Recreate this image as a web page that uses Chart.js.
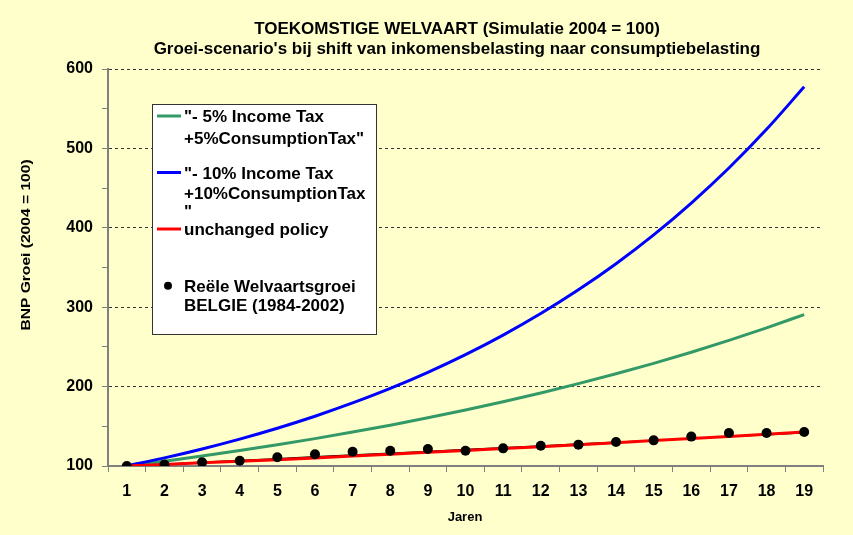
<!DOCTYPE html>
<html>
<head>
<meta charset="utf-8">
<script src="https://cdn.jsdelivr.net/npm/chart.js@4.4.1/dist/chart.umd.min.js"></script>
<style>
  html, body { margin: 0; padding: 0; background: #FFFFCC; }
  #wrap { width: 853px; height: 535px; }
</style>
</head>
<body>
<div id="wrap"><canvas id="welvaart-plot"></canvas></div>
<script>
// Jaren 1..19
const jaren = ['1','2','3','4','5','6','7','8','9','10','11','12','13','14','15','16','17','18','19'];

// "- 5% Income Tax +5%ConsumptionTax"
const scenario5 = [100, 106.1, 112.6, 119.5, 126.8, 134.5, 142.7, 151.4, 160.7, 170.5, 180.9, 192.0, 203.7, 216.1, 229.3, 243.3, 258.2, 274.0, 290.7];
// "- 10% Income Tax +10%ConsumptionTax"
const scenario10 = [100, 110.2, 121.5, 133.9, 147.6, 162.7, 179.4, 197.7, 218.0, 240.3, 264.9, 292.0, 321.9, 354.8, 391.1, 431.2, 475.3, 524.0, 577.6];
// unchanged policy
const unchanged = [100, 102, 104, 106, 108, 110, 112.6, 114.9, 117.2, 119.5, 121.9, 124.3, 126.8, 129.4, 132.0, 134.6, 137.3, 140.0, 142.8];
// trend under the red line
const trendBelgie = [100, 102.3, 104.6, 106.9, 109.2, 111.5, 113.8, 116.1, 118.4, 120.7, 123.0, 125.3, 127.6, 129.9, 132.2, 134.6, 137.0, 139.4, 141.8];
// Reële Welvaartsgroei BELGIE (1984-2002)
const reeleGroei = [100, 102, 104.6, 106.7, 111, 114.7, 118, 119.3, 121.4, 119.3, 122.2, 125.6, 126.9, 130.2, 132.3, 137, 141.6, 141.6, 142.8];

const yTicks = [100, 200, 300, 400, 500, 600];

const chartTitle = ['TOEKOMSTIGE WELVAART (Simulatie 2004 = 100)',
                    "Groei-scenario's bij shift van inkomensbelasting naar consumptiebelasting"];

const legendItems = [
    { lines: ['"- 5% Income Tax', '+5%ConsumptionTax"'], color: '#339966', type: 'line' },
    { lines: ['"- 10% Income Tax', '+10%ConsumptionTax', '"'], color: '#0000FF', type: 'line' },
    { lines: ['unchanged policy'], color: '#FF0000', type: 'line' },
    { lines: ['Reële Welvaartsgroei', 'BELGIE (1984-2002)'], color: '#000000', type: 'dot' }
];

const FONT = '"Liberation Sans", Arial, sans-serif';

// background, titles and the boxed legend
const decorPlugin = {
    id: 'decor',
    beforeDraw(chart) {
        const ctx = chart.ctx;
        ctx.save();
        ctx.fillStyle = '#FFFFCC';
        ctx.fillRect(0, 0, chart.width, chart.height);
        ctx.restore();
    },
    afterDraw(chart) {
        const ctx = chart.ctx;
        ctx.save();
        ctx.fillStyle = '#000';
        ctx.textAlign = 'center';
        ctx.textBaseline = 'alphabetic';
        ctx.font = 'bold 17px ' + FONT;
        ctx.fillText(chartTitle[0], 457, 34);
        ctx.fillText(chartTitle[1], 457, 54);

        // x axis title
        ctx.font = 'bold 13px ' + FONT;
        ctx.fillText('Jaren', 465, 521);

        // y axis title
        ctx.save();
        ctx.translate(27, 245);
        ctx.rotate(-Math.PI / 2);
        ctx.scale(1.3, 1);
        ctx.font = 'bold 12px ' + FONT;
        ctx.textBaseline = 'middle';
        ctx.fillText('BNP Groei (2004 = 100)', 0, 0);
        ctx.restore();

        // legend box
        ctx.fillStyle = '#FFFFFF';
        ctx.fillRect(152, 104, 224, 230);
        ctx.strokeStyle = '#333333';
        ctx.lineWidth = 1;
        ctx.strokeRect(152.5, 104.5, 224, 230);

        const lineY = [[116, 137.5], [172.5, 192.5, 211], [229], [285.8, 304.5]];
        ctx.font = 'bold 17px ' + FONT;
        ctx.textAlign = 'left';
        ctx.fillStyle = '#000';
        legendItems.forEach((item, i) => {
            const ys = lineY[i];
            if (item.type === 'line') {
                ctx.strokeStyle = item.color;
                ctx.lineWidth = 3;
                ctx.beginPath();
                ctx.moveTo(157, ys[0]);
                ctx.lineTo(181, ys[0]);
                ctx.stroke();
            } else {
                ctx.fillStyle = item.color;
                ctx.beginPath();
                ctx.arc(168, ys[0], 4, 0, Math.PI * 2);
                ctx.fill();
            }
            ctx.fillStyle = '#000';
            item.lines.forEach((t, j) => ctx.fillText(t, 184, ys[j] + 6));
        });
        ctx.restore();
    }
};

new Chart('welvaart-plot', {
    type: 'line',
    data: {
        labels: jaren,
        datasets: [
            { label: 'reele', data: reeleGroei, showLine: false, pointRadius: 5, pointBackgroundColor: '#000', pointBorderWidth: 0, order: 0 },
            { label: 'unchanged', data: unchanged, borderColor: '#FF0000', borderWidth: 3, pointRadius: 0, tension: 0, order: 1 },
            { label: 'trend', data: trendBelgie, borderColor: '#000000', borderWidth: 1.5, pointRadius: 0, tension: 0, order: 2 },
            { label: '10', data: scenario10, borderColor: '#0000FF', borderWidth: 3, pointRadius: 0, cubicInterpolationMode: 'monotone', order: 3 },
            { label: '5', data: scenario5, borderColor: '#339966', borderWidth: 3, pointRadius: 0, cubicInterpolationMode: 'monotone', order: 4 }
        ]
    },
    options: {
        responsive: true,
        maintainAspectRatio: false,
        animation: false,
        events: [],
        layout: { padding: { top: 69, right: 30, left: 0, bottom: 0 } },
        plugins: {
            legend: { display: false },
            title: { display: false },
            tooltip: { enabled: false }
        },
        scales: {
            x: {
                type: 'category',
                offset: true,
                afterFit: (scale) => { scale.height = 69; },
                grid: { offset: true, drawOnChartArea: false, tickLength: 6, tickColor: '#808080', tickWidth: 1 },
                border: { color: '#808080', width: 2 },
                ticks: { color: '#000', font: { family: FONT, size: 16, weight: 'bold' }, padding: 10, maxRotation: 0 }
            },
            y: {
                min: 100,
                max: 600,
                afterFit: (scale) => { scale.width = 108; },
                afterBuildTicks: (scale) => {
                    const t = [];
                    for (let v = 100; v <= 600; v += 50) t.push({ value: v });
                    scale.ticks = t;
                },
                grid: {
                    color: (c) => (c.tick && yTicks.includes(c.tick.value) && c.tick.value > 100) ? '#333333' : 'rgba(0,0,0,0)',
                    tickColor: '#808080',
                    tickLength: 6,
                    lineWidth: 1
                },
                border: { color: '#808080', width: 2, dash: [3, 3] },
                ticks: {
                    color: '#000',
                    font: { family: FONT, size: 16, weight: 'bold' },
                    padding: 9,
                    callback: (v) => yTicks.includes(v) ? String(v) : ''
                }
            }
        }
    },
    plugins: [decorPlugin]
});
</script>
</body>
</html>
